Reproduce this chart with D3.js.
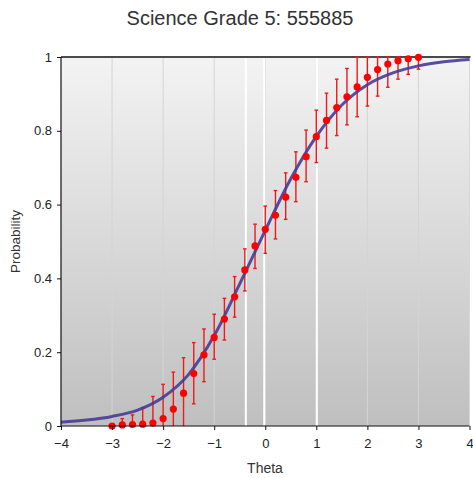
<!DOCTYPE html>
<html><head><meta charset="utf-8">
<script src="https://cdn.jsdelivr.net/npm/d3@7"></script>
<style>html,body{margin:0;padding:0;background:#fff;}svg{display:block;font-family:"Liberation Sans",Arial,sans-serif;}</style>
</head><body>
<svg id="chart" width="473" height="478"></svg>
<script>
const title = "Science Grade 5: 555885";
const xTicks = [-4, -3, -2, -1, 0, 1, 2, 3, 4];
const yTicks = [0, 0.2, 0.4, 0.6, 0.8, 1];
const gridLines = [-3, -2, -1, 0, 1, 2, 3];
const cutLines = [-0.38, -0.02, 1.01];
// observed points
const theta = [-3.0,-2.8,-2.6,-2.4,-2.2,-2.0,-1.8,-1.6,-1.4,-1.2,-1.0,-0.8,-0.6,-0.4,-0.2,0.0,0.2,0.4,0.6,0.8,1.0,1.2,1.4,1.6,1.8,2.0,2.2,2.4,2.6,2.8,3.0];
const prob  = [0.000,0.003,0.004,0.005,0.008,0.020,0.046,0.089,0.142,0.193,0.240,0.290,0.350,0.423,0.488,0.533,0.571,0.620,0.674,0.730,0.784,0.828,0.863,0.892,0.919,0.945,0.966,0.981,0.990,0.995,0.999];
const upper = [0.004,0.020,0.030,0.050,0.080,0.113,0.146,0.185,0.226,0.263,0.303,0.346,0.405,0.480,0.547,0.596,0.638,0.686,0.743,0.802,0.856,0.902,0.940,0.969,1.000,1.000,1.000,1.000,1.000,1.000,1.000];
const lower = [0.000,0.000,0.000,0.000,0.000,0.000,0.000,0.000,0.060,0.120,0.181,0.233,0.295,0.366,0.427,0.468,0.507,0.560,0.608,0.662,0.714,0.753,0.787,0.816,0.838,0.867,0.894,0.918,0.940,0.953,0.967];
// model curve
const curveTheta = [-4,-3.5,-3,-2.5,-2,-1.5,-1,-0.5,0,0.5,1,1.5,2,2.5,3,3.5,4];
const curveProb  = [0.010,0.016,0.026,0.043,0.078,0.140,0.245,0.385,0.530,0.670,0.785,0.870,0.925,0.957,0.976,0.987,0.993];

const svg = d3.select("#chart");
const L = 61, R = 469.5, T = 57, B = 426;
const x = d3.scaleLinear().domain([-4, 4]).range([L, R]);
const y = d3.scaleLinear().domain([0, 1]).range([B, T]);

const defs = svg.append("defs");
const grad = defs.append("linearGradient").attr("id","bg").attr("x1",0).attr("y1",0).attr("x2",0).attr("y2",1);
grad.append("stop").attr("offset","0%").attr("stop-color","#f3f3f3");
grad.append("stop").attr("offset","100%").attr("stop-color","#bfbfbf");

svg.append("rect").attr("x", L).attr("y", T).attr("width", R - L).attr("height", B - T).attr("fill", "url(#bg)");

svg.append("g").selectAll("line").data(gridLines).join("line")
  .attr("x1", d => x(d)).attr("x2", d => x(d)).attr("y1", T).attr("y2", B)
  .attr("stroke", "#d4d4d4").attr("stroke-width", 1);

svg.append("g").selectAll("line").data(cutLines).join("line")
  .attr("x1", d => x(d)).attr("x2", d => x(d)).attr("y1", T).attr("y2", B)
  .attr("stroke", "#ffffff").attr("stroke-width", 2);

// right light border
svg.append("line").attr("x1", R).attr("x2", R).attr("y1", T).attr("y2", B).attr("stroke", "#d8d8d8");
// top border
svg.append("line").attr("x1", L).attr("x2", R + 1).attr("y1", T).attr("y2", T).attr("stroke", "#4a4a4a").attr("stroke-width", 2);

const pts = theta.map((t, i) => ({t, p: prob[i], lo: lower[i], hi: upper[i]}));

// error bars
const eb = svg.append("g").attr("stroke", "#f01818").attr("stroke-width", 1.4).attr("fill", "none");
eb.selectAll("line.v").data(pts).join("line").attr("class","v")
  .attr("x1", d => x(d.t)).attr("x2", d => x(d.t)).attr("y1", d => y(d.lo)).attr("y2", d => y(d.hi));
eb.selectAll("line.top").data(pts).join("line").attr("class","top")
  .attr("x1", d => x(d.t) - 1.8).attr("x2", d => x(d.t) + 1.8).attr("y1", d => y(d.hi)).attr("y2", d => y(d.hi));
eb.selectAll("line.bot").data(pts.filter(d => d.lo > 0)).join("line").attr("class","bot")
  .attr("x1", d => x(d.t) - 1.8).attr("x2", d => x(d.t) + 1.8).attr("y1", d => y(d.lo)).attr("y2", d => y(d.lo));

// model curve
const line = d3.line().x((d, i) => x(curveTheta[i])).y(d => y(d)).curve(d3.curveMonotoneX);
svg.append("path").attr("d", line(curveProb)).attr("fill", "none")
  .attr("stroke", "#463c98").attr("stroke-opacity", 0.9).attr("stroke-width", 3);

// points
svg.append("g").selectAll("circle").data(pts).join("circle")
  .attr("cx", d => x(d.t)).attr("cy", d => y(d.p)).attr("r", 3.6).attr("fill", "#ff0000");

// axes
const xAxis = d3.axisBottom(x).tickValues(xTicks).tickSize(4).tickPadding(9).tickFormat(d3.format(""));
const gx = svg.append("g").attr("transform", `translate(0,${B})`).call(xAxis);
const yAxis = d3.axisLeft(y).tickValues(yTicks).tickSize(4).tickPadding(5).tickFormat(d3.format(""));
const gy = svg.append("g").attr("transform", `translate(${L},0)`).call(yAxis);
[gx, gy].forEach(g => {
  g.select(".domain").attr("stroke", "#111").attr("stroke-width", 1.2);
  g.selectAll(".tick line").attr("stroke", "#111");
  g.selectAll(".tick text").attr("fill", "#222").style("font-size", "13px").style("font-family", "Liberation Sans, Arial, sans-serif");
});
gx.select(".domain").attr("d", `M${L},0H${R}`);
gy.select(".domain").attr("d", `M0,${B}V${T}`);

svg.append("text").attr("x", 240).attr("y", 25).attr("text-anchor", "middle")
  .attr("fill", "#333").style("font-size", "20px").text(title);
svg.append("text").attr("x", 265).attr("y", 472.5).attr("text-anchor", "middle")
  .attr("fill", "#333").style("font-size", "14px").text("Theta");
svg.append("text").attr("transform", "translate(20,241.5) rotate(-90)").attr("text-anchor", "middle")
  .attr("fill", "#333").style("font-size", "13.5px").text("Probability");
</script>
</body></html>
